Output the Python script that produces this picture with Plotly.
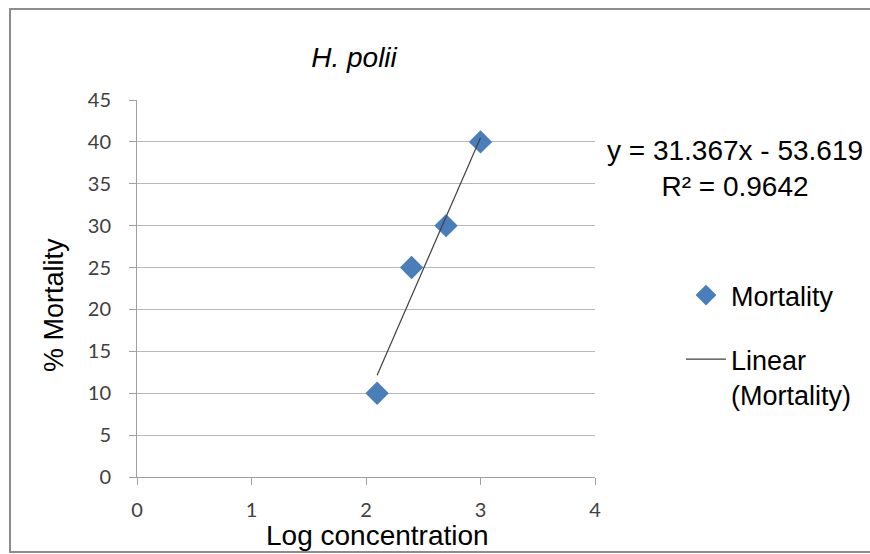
import numpy as np
import plotly.graph_objects as go

# Data
log_conc = [2.097, 2.398, 2.699, 3.0]
mortality = [10, 25, 30, 40]
slope = 31.367
intercept = -53.619
r_squared = 0.9642
x_ticks = [0, 1, 2, 3, 4]
y_ticks = [0, 5, 10, 15, 20, 25, 30, 35, 40, 45]

trend_x = [min(log_conc), max(log_conc)]
trend_y = [slope * v + intercept for v in trend_x]

W, H = 870, 554
L, R, T, B = 137, 275, 100, 77
PW, PH = W - L - R, H - T - B

def px(xp):
    return (xp - L) / PW

def py(yp):
    return (H - B - yp) / PH

fig = go.Figure()
fig.add_trace(go.Scatter(
    x=log_conc, y=mortality, mode="markers", name="Mortality", legendgroup="a",
    marker=dict(symbol="diamond", size=18, color="#4A7EBB"),
))
fig.add_trace(go.Scatter(
    x=trend_x, y=trend_y, mode="lines", name="Linear<br>(Mortality)", legendgroup="b",
    line=dict(color="#404040", width=1.2),
))

axis_font = dict(family="Lato, Liberation Sans, sans-serif", size=20, color="#404040")
txt = "Liberation Sans, Arial, sans-serif"
fig.update_layout(
    width=W, height=H,
    margin=dict(l=L, r=R, t=T, b=B),
    paper_bgcolor="white", plot_bgcolor="white",
    title=dict(text="<i>H. polii</i>", x=354 / W, xanchor="center",
               y=1 - 57 / H, yanchor="middle",
               font=dict(family=txt, size=28, color="black")),
    xaxis=dict(range=[0, 4], tickvals=x_ticks, showgrid=False, zeroline=False,
               showline=True, linecolor="#A0A0A0", linewidth=1,
               ticks="outside", ticklen=7, tickcolor="#A0A0A0",
               tickfont=axis_font, ticklabelstandoff=8),
    yaxis=dict(range=[0, 45], tickvals=y_ticks, showgrid=True, gridcolor="#B8B8B8", gridwidth=1,
               zeroline=False, showline=True, linecolor="#A0A0A0", linewidth=1,
               ticks="outside", ticklen=7, tickcolor="#A0A0A0",
               tickfont=axis_font, ticklabelstandoff=14),
    legend=dict(x=px(681), y=py(271), xanchor="left", yanchor="top",
                font=dict(family=txt, size=27, color="black"),
                bgcolor="rgba(0,0,0,0)", traceorder="grouped", tracegroupgap=26,
                itemwidth=40, valign="top"),
    showlegend=True,
)

# Axis titles
fig.add_annotation(xref="paper", yref="paper", x=px(377), y=py(535),
                   text="Log concentration", showarrow=False,
                   xanchor="center", yanchor="middle",
                   font=dict(family=txt, size=28, color="black"))
fig.add_annotation(xref="paper", yref="paper", x=px(54), y=py(305),
                   text="% Mortality", showarrow=False, textangle=-90,
                   xanchor="center", yanchor="middle",
                   font=dict(family=txt, size=27, color="black"))

fig.add_annotation(
    xref="paper", yref="paper",
    x=px(735), y=py(168),
    text=f"y = {slope}x - {abs(intercept)}<br>R² = {r_squared}",
    showarrow=False, xanchor="center", yanchor="middle", align="center",
    font=dict(family=txt, size=28, color="black"),
)

# Chart border
fig.add_shape(type="rect", xref="paper", yref="paper",
              x0=px(10), x1=px(W + 10),
              y0=py(552), y1=py(9),
              line=dict(color="#8C8C8C", width=2), fillcolor="rgba(0,0,0,0)", layer="below")

fig.write_html("out.html")
